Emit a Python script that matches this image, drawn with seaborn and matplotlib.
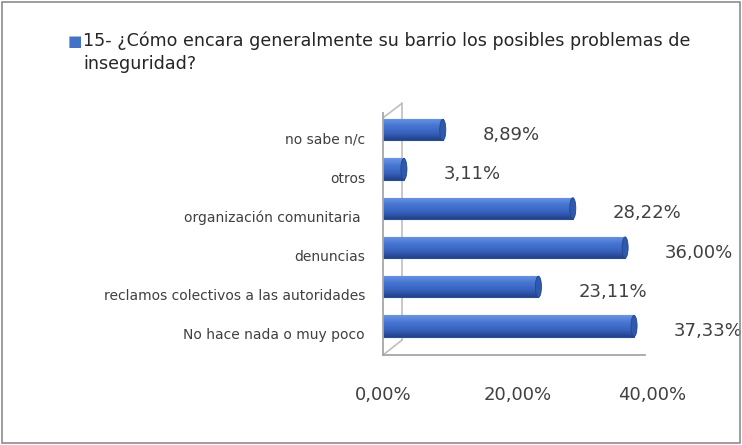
import numpy as np
import pandas as pd
import matplotlib
matplotlib.use('Agg')
import matplotlib.pyplot as plt
import seaborn as sns
from matplotlib.colors import LinearSegmentedColormap
from matplotlib.patches import Ellipse, Rectangle
from matplotlib.transforms import ScaledTranslation

# data
categories = ['no sabe n/c', 'otros', 'organización comunitaria ', 'denuncias',
              'reclamos colectivos a las autoridades', 'No hace nada o muy poco']
values = [8.89, 3.11, 28.22, 36.00, 23.11, 37.33]
x_ticks = [0, 20, 40]
x_tick_labels = ['0,00%', '20,00%', '40,00%']
title = '15- ¿Cómo encara generalmente su barrio los posibles problemas de\ninseguridad?'

sns.set_style('white')
plt.rcParams['font.family'] = ['DejaVu Sans']

fig = plt.figure(figsize=(7.42, 4.45), dpi=100)
ax = fig.add_axes([383 / 742, 1 - 355 / 445, 269 / 742, 242 / 445])

df = pd.DataFrame({'categoria': categories, 'porcentaje': values})
sns.barplot(data=df, x='porcentaje', y='categoria', color='#3F6FCB', width=0.54,
            edgecolor='#2a4d94', linewidth=0.8, ax=ax)

# cylinder-ish shading on each bar
cyl = LinearSegmentedColormap.from_list('cyl', ['#6a96e4', '#4776d2', '#3763bf', '#22428a'])
grad = np.linspace(0, 1, 64).reshape(-1, 1)
for p in list(ax.patches):
    x0, y0, w, h = p.get_x(), p.get_y(), p.get_width(), p.get_height()
    im = ax.imshow(grad, cmap=cyl, extent=[x0, x0 + w, y0 + h, y0], origin='upper',
                   aspect='auto', zorder=p.get_zorder() + 0.1)
    im.set_clip_path(p)
    ax.add_patch(Ellipse((x0 + w, y0 + h / 2), 0.9, h, facecolor='#2f59ad',
                         edgecolor='#24468c', linewidth=0.6, zorder=p.get_zorder() + 0.2))

ax.set_xlim(0, 40)
ax.set_ylim(5.74, -0.43)
ax.set_xticks(x_ticks)
ax.set_xticklabels(x_tick_labels)
ax.set_xlabel('')
ax.set_ylabel('')

sns.despine(ax=ax, top=True, right=True)
for s in ['left', 'bottom']:
    ax.spines[s].set_color('#a6a6a6')
    ax.spines[s].set_linewidth(1.3)
ax.spines['bottom'].set_bounds(0, 39)

# 3D wall / floor hints
wall = dict(color='#bfbfbf', linewidth=1.2, transform=ax.transAxes, clip_on=False, zorder=0)
ax.plot([0.071, 0.071], [0.062, 1.04], **wall)
ax.plot([0, 0.071], [0.98, 1.04], **wall)
ax.plot([0, 0.071], [0, 0.062], **wall)

ax.tick_params(axis='x', length=0, pad=22, labelsize=13, colors='#404040')
ax.tick_params(axis='y', length=0, pad=13, labelsize=10, colors='#404040')
for lab in ax.get_yticklabels():
    lab.set_transform(lab.get_transform() + ScaledTranslation(0, -8 / 100, fig.dpi_scale_trans))

for i, v in enumerate(values):
    ax.annotate(f'{v:.2f}%'.replace('.', ','), xy=(v, i), xytext=(40, -5),
                textcoords='offset pixels', va='center', ha='left', fontsize=13,
                color='#404040', annotation_clip=False)

fig.text(68 / 742, 1 - 42 / 445, '■', color='#4472C4', fontsize=11, va='center')
fig.text(83 / 742, 1 - 32 / 445, title, color='#262626', fontsize=12.6,
         va='top', ha='left', linespacing=1.3)

fig.patches.append(Rectangle((0.003, 0.005), 0.994, 0.99, transform=fig.transFigure,
                             fill=False, edgecolor='#8c8c8c', linewidth=1.2))

fig.savefig('out.png', dpi=100)
